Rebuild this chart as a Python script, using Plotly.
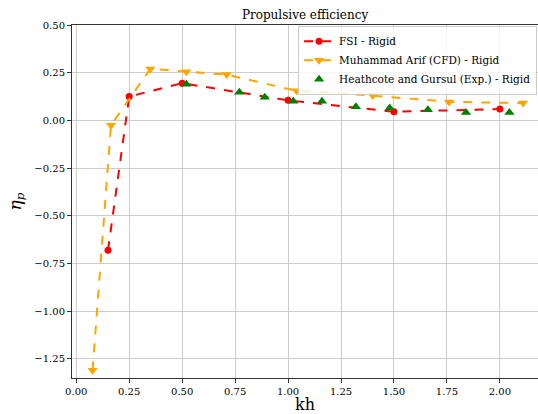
import plotly.graph_objects as go

fsi_x = [0.15, 0.25, 0.50, 1.00, 1.50, 2.00]
fsi_y = [-0.68, 0.125, 0.195, 0.105, 0.045, 0.06]

arif_x = [0.077, 0.164, 0.35, 0.52, 0.71, 1.04, 1.40, 1.76, 2.11]
arif_y = [-1.31, -0.025, 0.27, 0.255, 0.24, 0.155, 0.13, 0.097, 0.091]

heath_x = [0.52, 0.77, 0.89, 1.025, 1.16, 1.32, 1.48, 1.66, 1.84, 2.045]
heath_y = [0.19, 0.148, 0.122, 0.1, 0.1, 0.072, 0.065, 0.056, 0.041, 0.041]

x_ticks = [0.0, 0.25, 0.5, 0.75, 1.0, 1.25, 1.5, 1.75, 2.0]
y_ticks = [0.5, 0.25, 0.0, -0.25, -0.5, -0.75, -1.0, -1.25]

serif = "DejaVu Serif, Liberation Serif, serif"

fig = go.Figure()
fig.add_trace(go.Scatter(x=fsi_x, y=fsi_y, mode="lines+markers", name="FSI - Rigid",
                         line=dict(color="red", width=2, dash="dash"),
                         marker=dict(symbol="circle", size=7, color="red")))
fig.add_trace(go.Scatter(x=arif_x, y=arif_y, mode="lines+markers", name="Muhammad Arif (CFD) - Rigid",
                         line=dict(color="orange", width=2, dash="dash"),
                         marker=dict(symbol="triangle-down", size=9, color="orange")))
fig.add_trace(go.Scatter(x=heath_x, y=heath_y, mode="markers", name="Heathcote and Gursul (Exp.) - Rigid",
                         marker=dict(symbol="triangle-up", size=9, color="green")))

fig.update_layout(
    width=538, height=414,
    margin=dict(l=72, r=0, t=25, b=36, autoexpand=False),
    plot_bgcolor="white", paper_bgcolor="white",
    font=dict(family=serif, size=10, color="black"),
    title=dict(text="Propulsive efficiency", x=0.567, xanchor="center", y=0.965, yanchor="middle",
               font=dict(family=serif, size=12)),
    legend=dict(x=0.998, y=0.998, xanchor="right", yanchor="top",
                bordercolor="#cccccc", borderwidth=1, bgcolor="rgba(255,255,255,0.8)",
                font=dict(family=serif, size=10.5), tracegroupgap=0, itemwidth=30),
    showlegend=True,
)
fig.update_xaxes(range=[-0.02, 2.18], tickvals=x_ticks, ticktext=[f"{v:.2f}" for v in x_ticks],
                 tickfont=dict(family=serif, size=10),
                 showgrid=True, gridcolor="#cccccc", gridwidth=1, zeroline=False,
                 showline=True, linecolor="#333333", linewidth=1, mirror=True,
                 ticks="outside", ticklen=4, tickcolor="#333333",
                 title=dict(text="kh", font=dict(family=serif, size=16), standoff=4))
fig.update_yaxes(range=[-1.35, 0.5], tickvals=y_ticks,
                 ticktext=[f"{v:.2f}".replace("-", "\u2212") for v in y_ticks],
                 tickfont=dict(family=serif, size=10),
                 showgrid=True, gridcolor="#cccccc", gridwidth=1, zeroline=False,
                 showline=True, linecolor="#333333", linewidth=1,
                 ticks="outside", ticklen=4, tickcolor="#333333",
                 title=dict(text="<i>η<sub>p</sub></i>", font=dict(family=serif, size=17), standoff=8))

fig.write_html("out.html")
